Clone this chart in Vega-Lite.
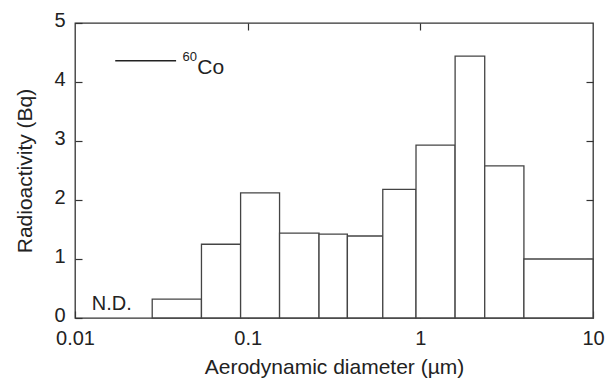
{
  "$schema": "https://vega.github.io/schema/vega-lite/v6.json",
  "width": 518,
  "height": 295,
  "autosize": "none",
  "padding": {"left": 75, "top": 23, "right": 20, "bottom": 60},
  "config": {
    "font": "Liberation Sans",
    "view": {"stroke": "#333", "strokeWidth": 1.3},
    "axis": {
      "domain": false,
      "grid": false,
      "tickColor": "#333",
      "tickWidth": 1.2,
      "tickSize": -7,
      "labelFont": "Liberation Sans",
      "labelFontSize": 20,
      "labelColor": "#222",
      "titleFont": "Liberation Sans",
      "titleFontSize": 21,
      "titleFontWeight": "normal",
      "titleColor": "#222"
    }
  },
  "datasets": {
    "bins": [
      {"lo": 0.028, "hi": 0.054, "bq": 0.32},
      {"lo": 0.054, "hi": 0.091, "bq": 1.25},
      {"lo": 0.091, "hi": 0.153, "bq": 2.12},
      {"lo": 0.153, "hi": 0.259, "bq": 1.44},
      {"lo": 0.259, "hi": 0.378, "bq": 1.42},
      {"lo": 0.378, "hi": 0.606, "bq": 1.39},
      {"lo": 0.606, "hi": 0.944, "bq": 2.18},
      {"lo": 0.944, "hi": 1.59, "bq": 2.93},
      {"lo": 1.59, "hi": 2.36, "bq": 4.44},
      {"lo": 2.36, "hi": 3.98, "bq": 2.58},
      {"lo": 3.98, "hi": 10, "bq": 1.0}
    ],
    "legendline": [{"x1": 0.0171, "x2": 0.0385, "y": 4.36}],
    "labels": [
      {"x": 0.042, "y": 4.35, "t": "60", "s": "sup"},
      {"x": 0.0511, "y": 4.143, "t": "Co", "s": "main"},
      {"x": 0.0125, "y": 0.135, "t": "N.D.", "s": "nd"}
    ],
    "frame": [{"x": 0.1, "y": 1}]
  },
  "layer": [
    {
      "data": {"name": "bins"},
      "mark": {"type": "rect", "fill": "white", "stroke": "#444", "strokeWidth": 1.3},
      "encoding": {
        "x": {
          "field": "lo", "type": "quantitative",
          "scale": {"type": "log", "domain": [0.01, 10]},
          "axis": {"orient": "bottom", "values": [0.01, 0.1, 1, 10], "format": "~g", "labelPadding": 17, "title": "Aerodynamic diameter (µm)", "titlePadding": 8, "labelFlush": false}
        },
        "x2": {"field": "hi"},
        "y": {
          "field": "bq", "type": "quantitative",
          "scale": {"domain": [0, 5]},
          "axis": {"orient": "left", "values": [0, 1, 2, 3, 4, 5], "labelPadding": 17, "labelOffset": -3, "title": "Radioactivity (Bq)", "titlePadding": 18, "labelFlush": false}
        },
        "y2": {"datum": 0}
      }
    },
    {
      "data": {"name": "legendline"},
      "mark": {"type": "rule", "stroke": "#222", "strokeWidth": 1.3},
      "encoding": {
        "x": {"field": "x1", "type": "quantitative", "axis": null},
        "x2": {"field": "x2"},
        "y": {"field": "y", "type": "quantitative", "axis": null}
      }
    },
    {
      "data": {"name": "labels"},
      "transform": [{"filter": "datum.s == 'main'"}],
      "mark": {"type": "text", "align": "left", "baseline": "alphabetic", "fontSize": 21, "color": "#222"},
      "encoding": {
        "x": {"field": "x", "type": "quantitative", "axis": null},
        "y": {"field": "y", "type": "quantitative", "axis": null},
        "text": {"field": "t"}
      }
    },
    {
      "data": {"name": "labels"},
      "transform": [{"filter": "datum.s == 'nd'"}],
      "mark": {"type": "text", "align": "left", "baseline": "alphabetic", "fontSize": 20, "color": "#222"},
      "encoding": {
        "x": {"field": "x", "type": "quantitative", "axis": null},
        "y": {"field": "y", "type": "quantitative", "axis": null},
        "text": {"field": "t"}
      }
    },
    {
      "data": {"name": "labels"},
      "transform": [{"filter": "datum.s == 'sup'"}],
      "mark": {"type": "text", "align": "left", "baseline": "alphabetic", "fontSize": 13, "color": "#222"},
      "encoding": {
        "x": {"field": "x", "type": "quantitative", "axis": null},
        "y": {"field": "y", "type": "quantitative", "axis": null},
        "text": {"field": "t"}
      }
    },
    {
      "data": {"name": "frame"},
      "mark": {"type": "point", "opacity": 0},
      "encoding": {
        "x": {"field": "x", "type": "quantitative", "axis": {"orient": "top", "values": [0.1, 1], "labels": false, "title": null}},
        "y": {"field": "y", "type": "quantitative", "axis": {"orient": "right", "values": [1, 2, 3, 4], "labels": false, "title": null}}
      }
    }
  ],
  "resolve": {"axis": {"x": "independent", "y": "independent"}}
}
